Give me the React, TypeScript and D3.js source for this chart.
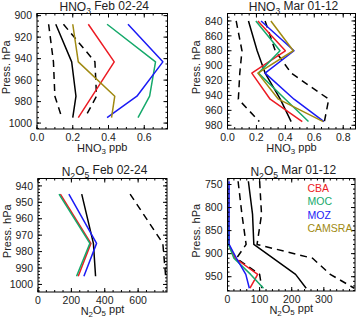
import * as d3 from "d3"

const FONT = "'Liberation Sans', Arial, Helvetica, sans-serif"

// pressure levels, hPa
const febHno3Lev = [908, 943, 975, 995]
const marHno3Lev = [840, 880, 910, 945, 975]
const febN2o5Lev = [945, 975, 995]
const marN2o5Lev = [743, 815, 880, 910, 945, 975]

// HNO3 Feb 02-24, ppb
const febHno3Obs = [0.105, 0.194, 0.218, 0.2]
const febHno3Lo = [0.065, 0.092, 0.1, 0.139]
const febHno3Hi = [0.148, 0.324, 0.333, 0.268]
const febHno3Cba = [0.287, 0.432, null, 0.231]
const febHno3Moc = [0.392, 0.663, 0.63, 0.565]
const febHno3Moz = [0.509, 0.704, 0.559, 0.392]
const febHno3Cams = [0.2, 0.231, 0.435, 0.417]

// HNO3 Mar 01-12, ppb
const marHno3Obs = [0.145, 0.205, 0.26, 0.365, 0.44]
const marHno3Lo = [0.06, 0.1, 0.085, 0.075, 0.22]
const marHno3Hi = [0.26, 0.33, 0.44, 0.7, 0.67]
const marHno3Cba = [0.21, 0.4, 0.168, 0.295, 0.517]
const marHno3Moc = [0.196, 0.363, 0.214, 0.4, 0.56]
const marHno3Moz = [0.232, 0.46, 0.26, 0.46, 0.667]
const marHno3Cams = [0.3, 0.455, 0.21, 0.352, 0.662]

// N2O5 Feb 02-24, ppt
const febN2o5Obs = [262, 332, 345]
const febN2o5Hi = [552, 748, 765]
const febN2o5Cba = [134, 317, 241]
const febN2o5Moc = [126, 311, 231]
const febN2o5Moz = [185, 351, 275]

// N2O5 Mar 01-12, ppt
const marN2o5Obs = [65, 78, 82, null, 212, 245]
const marN2o5Lo = [33, 45, 58, 28, 100, 107]
const marN2o5Hi = [100, 106, 92, 265, 320, 395]
const marN2o5Cba = [2, 2, 4, 24, 94, 70]
const marN2o5Moc = [1, 1, 3, 20, 72, 112]
const marN2o5Moz = [5, 5, 5, 28, 57, 68]

const models = ["CBA", "MOC", "MOZ", "CAMSRA"]
const modelColors = ["#ec1c24", "#16a96b", "#1b1bf5", "#a08a12"]

// tick labels
const hno3FebXTicks = [0, 0.2, 0.4, 0.6]
const hno3MarXTicks = [0, 0.2, 0.4, 0.6, 0.8]
const n2o5FebXTicks = [0, 200, 400, 600]
const n2o5MarXTicks = [0, 100, 200, 300]
const hno3FebYTicks = [900, 920, 940, 960, 980, 1000]
const hno3MarYTicks = [840, 860, 880, 900, 920, 940, 960, 980]
const n2o5FebYTicks = [940, 950, 960, 970, 980, 990, 1000]
const n2o5MarYTicks = [750, 800, 850, 900, 950]

type Vals = (number | null)[]
interface Series {
  values: Vals
  color: string
  dashed?: boolean
}
interface PanelCfg {
  title: string
  xTitle: string
  levels: number[]
  series: Series[]
  xDomain: [number, number]
  yDomain: [number, number]
  xTicks: number[]
  yTicks: number[]
  xMinor: number
  yMinor: number
  fmt: (v: number) => string
  x0: number
  x1: number
  y0: number
  y1: number
  legend?: boolean
}

const obs = (v: Vals): Series => ({ values: v, color: "#000" })
const dash = (v: Vals): Series => ({ values: v, color: "#000", dashed: true })
const mod = (v: Vals, i: number): Series => ({ values: v, color: modelColors[i] })
const yFmt = d3.format("d")

const panels: PanelCfg[] = [
  {
    title: "HNO_3 Feb 02-24",
    xTitle: "HNO_3 ppb",
    levels: febHno3Lev,
    series: [
      dash(febHno3Lo), dash(febHno3Hi), obs(febHno3Obs),
      mod(febHno3Cba, 0), mod(febHno3Moc, 1), mod(febHno3Moz, 2), mod(febHno3Cams, 3),
    ],
    xDomain: [0, 0.73], yDomain: [898, 1005.5],
    xTicks: hno3FebXTicks, yTicks: hno3FebYTicks, xMinor: 0.05, yMinor: 5,
    fmt: d3.format(".1f"),
    x0: 37, x1: 167.5, y0: 13.5, y1: 129,
  },
  {
    title: "HNO_3 Mar 01-12",
    xTitle: "HNO_3 ppb",
    levels: marHno3Lev,
    series: [
      dash(marHno3Lo), dash(marHno3Hi), obs(marHno3Obs),
      mod(marHno3Cba, 0), mod(marHno3Moc, 1), mod(marHno3Moz, 2), mod(marHno3Cams, 3),
    ],
    xDomain: [0, 0.885], yDomain: [830, 985],
    xTicks: hno3MarXTicks, yTicks: hno3MarYTicks, xMinor: 0.05, yMinor: 5,
    fmt: d3.format(".1f"),
    x0: 227.5, x1: 355.5, y0: 13.5, y1: 129,
  },
  {
    title: "N_2O_5 Feb 02-24",
    xTitle: "N_2O_5 ppt",
    levels: febN2o5Lev,
    series: [
      dash(febN2o5Hi), obs(febN2o5Obs),
      mod(febN2o5Cba, 0), mod(febN2o5Moz, 2), mod(febN2o5Moc, 1),
    ],
    xDomain: [0, 773], yDomain: [935.5, 1004.6],
    xTicks: n2o5FebXTicks, yTicks: n2o5FebYTicks, xMinor: 50, yMinor: 2,
    fmt: d3.format("d"),
    x0: 38, x1: 167, y0: 178.5, y1: 292,
  },
  {
    title: "N_2O_5 Mar 01-12",
    xTitle: "N_2O_5 ppt",
    levels: marN2o5Lev,
    series: [
      dash(marN2o5Lo), dash(marN2o5Hi), obs(marN2o5Obs),
      mod(marN2o5Cba, 0), mod(marN2o5Moc, 1), mod(marN2o5Moz, 2),
    ],
    xDomain: [0, 397], yDomain: [737, 981],
    xTicks: n2o5MarXTicks, yTicks: n2o5MarYTicks, xMinor: 20, yMinor: 10,
    fmt: d3.format("d"),
    x0: 227.5, x1: 355, y0: 178.5, y1: 291,
    legend: true,
  },
]

// "HNO_3" -> HNO with subscript 3
const chem = (s: string) => {
  const parts = s.split(/_(\d)/)
  return parts.map((p, i) =>
    i % 2 === 1 ? (
      <tspan key={i} fontSize="0.72em" dy="0.3em">{p}</tspan>
    ) : (
      <tspan key={i} dy={i > 0 ? "-0.3em" : undefined}>{p}</tspan>
    ),
  )
}

const Panel = ({ cfg, id }: { cfg: PanelCfg; id: number }) => {
  const x = d3.scaleLinear().domain(cfg.xDomain).range([cfg.x0, cfg.x1])
  const y = d3.scaleLinear().domain(cfg.yDomain).range([cfg.y0, cfg.y1])
  const line = d3
    .line<[number, number]>()
    .x((d) => x(d[0]))
    .y((d) => y(d[1]))

  const xMinor = d3.range(cfg.xDomain[0], cfg.xDomain[1], cfg.xMinor)
  const yMinor = d3.range(Math.ceil(cfg.yDomain[0] / cfg.yMinor) * cfg.yMinor, cfg.yDomain[1], cfg.yMinor)
  const cx = (cfg.x0 + cfg.x1) / 2
  const cy = (cfg.y0 + cfg.y1) / 2

  return (
    <g>
      <defs>
        <clipPath id={`clip${id}`}>
          <rect x={cfg.x0} y={cfg.y0} width={cfg.x1 - cfg.x0} height={cfg.y1 - cfg.y0} />
        </clipPath>
      </defs>
      <g clipPath={`url(#clip${id})`} fill="none" strokeLinejoin="round">
        {cfg.series.map((s, i) => {
          const pts = cfg.levels
            .map((p, j) => [s.values[j], p] as [number | null, number])
            .filter((d) => d[0] != null) as [number, number][]
          return (
            <path
              key={i}
              d={line(pts) || ""}
              stroke={s.color}
              strokeWidth={1.5}
              strokeDasharray={s.dashed ? "7,5" : undefined}
            />
          )
        })}
      </g>
      <rect x={cfg.x0} y={cfg.y0} width={cfg.x1 - cfg.x0} height={cfg.y1 - cfg.y0} fill="none" stroke="#000" strokeWidth={1} />
      <g stroke="#000" strokeWidth={1}>
        {xMinor.map((v, i) => (
          <g key={"xm" + i}>
            <line x1={x(v)} x2={x(v)} y1={cfg.y1} y2={cfg.y1 - 2} />
            <line x1={x(v)} x2={x(v)} y1={cfg.y0} y2={cfg.y0 + 2} />
          </g>
        ))}
        {cfg.xTicks.map((v, i) => (
          <g key={"xM" + i}>
            <line x1={x(v)} x2={x(v)} y1={cfg.y1} y2={cfg.y1 - 4} />
            <line x1={x(v)} x2={x(v)} y1={cfg.y0} y2={cfg.y0 + 4} />
          </g>
        ))}
        {yMinor.map((v, i) => (
          <g key={"ym" + i}>
            <line x1={cfg.x0} x2={cfg.x0 + 2} y1={y(v)} y2={y(v)} />
            <line x1={cfg.x1} x2={cfg.x1 - 2} y1={y(v)} y2={y(v)} />
          </g>
        ))}
        {cfg.yTicks.map((v, i) => (
          <g key={"yM" + i}>
            <line x1={cfg.x0} x2={cfg.x0 + 4} y1={y(v)} y2={y(v)} />
            <line x1={cfg.x1} x2={cfg.x1 - 4} y1={y(v)} y2={y(v)} />
          </g>
        ))}
      </g>
      <g fontFamily={FONT} fontSize={10.5} fill="#222">
        {cfg.xTicks.map((v, i) => (
          <text key={"xt" + i} x={x(v)} y={cfg.y1 + 11.5} textAnchor="middle">
            {cfg.fmt(v)}
          </text>
        ))}
        {cfg.yTicks.map((v, i) => (
          <text key={"yt" + i} x={cfg.x0 - 5} y={y(v) + 3.7} textAnchor="end">
            {yFmt(v)}
          </text>
        ))}
        <text x={cx} y={cfg.y1 + 23} textAnchor="middle" fontSize={11}>
          {chem(cfg.xTitle)}
        </text>
        <text transform={`translate(${cfg.x0 - 27.5},${cy - 4}) rotate(-90)`} textAnchor="middle" fontSize={11}>
          Press. hPa
        </text>
        <text x={cx + 2} y={cfg.y0 - 2.5} textAnchor="middle" fontSize={12}>
          {chem(cfg.title)}
        </text>
      </g>
      {cfg.legend && (
        <g fontFamily={FONT} fontSize={10.5}>
          {models.map((m, i) => (
            <text key={m} x={cfg.x0 + 80} y={cfg.y0 + 13 + i * 13.5} fill={modelColors[i]}>
              {m}
            </text>
          ))}
        </g>
      )}
    </g>
  )
}

export default function App() {
  return (
    <svg
      width={357}
      height={319}
      viewBox="0 0 357 319"
      style={{ position: "absolute", left: 0, top: 0, background: "#fff" }}
    >
      {panels.map((p, i) => (
        <Panel key={i} cfg={p} id={i} />
      ))}
    </svg>
  )
}
